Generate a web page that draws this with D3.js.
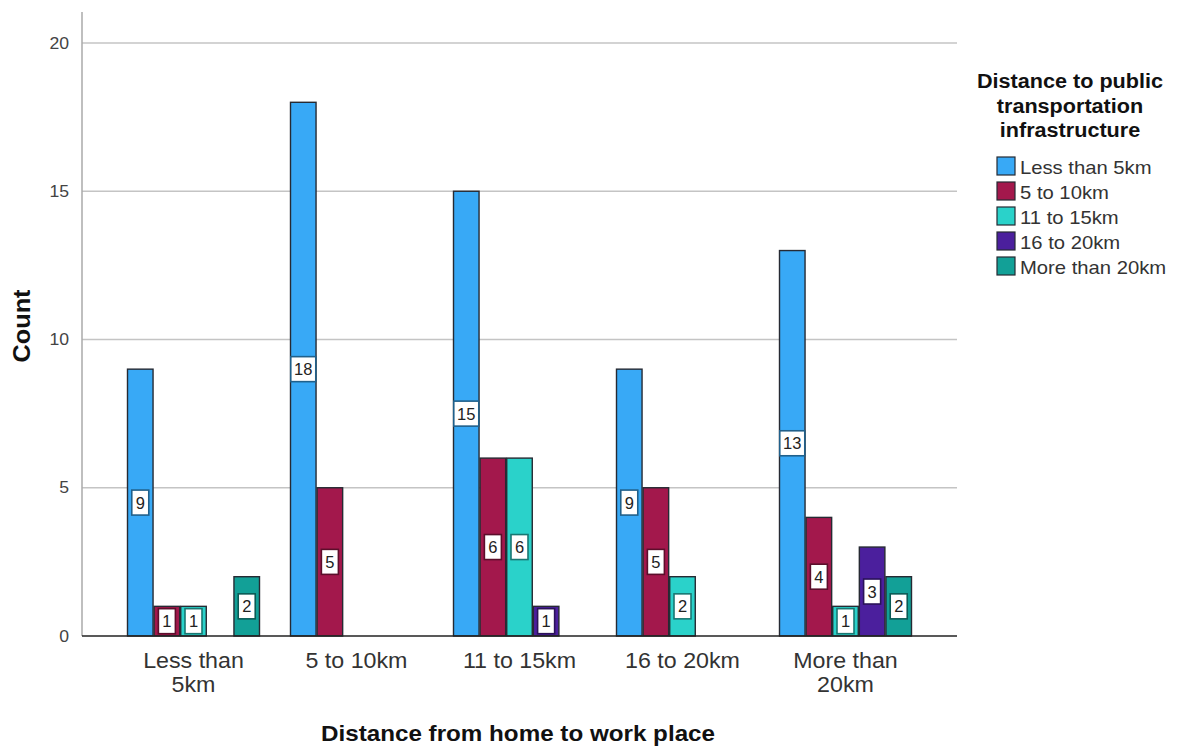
<!DOCTYPE html>
<html>
<head>
<meta charset="utf-8">
<script src="https://cdn.jsdelivr.net/npm/d3@7"></script>
<style>
  html, body { margin: 0; padding: 0; background: #fff; }
  svg { display: block; font-family: "Liberation Sans", Arial, sans-serif; }
</style>
</head>
<body>
<svg id="chart" width="1196" height="747"></svg>
<script>
// Home-to-work distance groups (x axis)
const categories = ["Less than 5km", "5 to 10km", "11 to 15km", "16 to 20km", "More than 20km"];
const categoryLines = [["Less than", "5km"], ["5 to 10km"], ["11 to 15km"], ["16 to 20km"], ["More than", "20km"]];

// Distance to public transport (series)
const seriesNames = ["Less than 5km", "5 to 10km", "11 to 15km", "16 to 20km", "More than 20km"];
const seriesColors = ["#38a9f6", "#a3184c", "#2ad2ca", "#4b1f9d", "#12a097"];

// Counts per series, one entry per x category (null = no bar)
const lessThan5 = [9, 18, 15, 9, 13];
const from5to10 = [1, 5, 6, 5, 4];
const from11to15 = [1, null, 6, 2, 1];
const from16to20 = [null, null, 1, null, 3];
const moreThan20 = [2, null, null, null, 2];
const seriesValues = [lessThan5, from5to10, from11to15, from16to20, moreThan20];

const yTicks = [0, 5, 10, 15, 20];

const svg = d3.select("#chart");
const plot = { left: 82, right: 957, top: 12, bottom: 636 };

// widen glyphs slightly, as the chart's typeface runs wide
function widen(sel, k) {
  sel.each(function () {
    const len = this.getComputedTextLength();
    this.setAttribute("textLength", len * k);
    this.setAttribute("lengthAdjust", "spacingAndGlyphs");
  });
}

const y = d3.scaleLinear().domain([0, 20]).range([plot.bottom, 43]);

const x = d3.scaleBand()
  .domain(categories)
  .range([plot.left + 30, plot.right - 30])
  .paddingInner(0).paddingOuter(0);

const xInner = d3.scaleBand()
  .domain(d3.range(seriesNames.length))
  .range([(x.bandwidth() - 132) / 2, (x.bandwidth() + 132) / 2])
  .paddingInner(0.04);

// gridlines
svg.append("g")
  .selectAll("line")
  .data(yTicks.filter(t => t > 0))
  .join("line")
  .attr("x1", plot.left).attr("x2", plot.right)
  .attr("y1", d => y(d)).attr("y2", d => y(d))
  .attr("stroke", "#c4c4c4").attr("stroke-width", 1.5);

// y axis
const yAxis = svg.append("g")
  .attr("transform", `translate(${plot.left},0)`)
  .call(d3.axisLeft(y).tickValues(yTicks).tickSize(0).tickPadding(13).tickFormat(d3.format("d")));
yAxis.select(".domain").remove();
yAxis.selectAll("text").attr("fill", "#444").attr("font-size", 16);
widen(yAxis.selectAll("text"), 1.1);
svg.append("line")
  .attr("x1", plot.left).attr("x2", plot.left)
  .attr("y1", plot.top).attr("y2", plot.bottom)
  .attr("stroke", "#aaa").attr("stroke-width", 1.5);

// bars
const barData = [];
seriesValues.forEach((vals, si) => {
  vals.forEach((v, ci) => {
    if (v != null) barData.push({ si, ci, v });
  });
});

svg.append("g")
  .selectAll("rect")
  .data(barData)
  .join("rect")
  .attr("x", d => x(categories[d.ci]) + xInner(d.si))
  .attr("width", xInner.bandwidth())
  .attr("y", d => y(d.v))
  .attr("height", d => y(0) - y(d.v))
  .attr("fill", d => seriesColors[d.si])
  .attr("stroke", "#262a33")
  .attr("stroke-width", 1.4);

// x baseline
svg.append("line")
  .attr("x1", plot.left).attr("x2", plot.right)
  .attr("y1", plot.bottom).attr("y2", plot.bottom)
  .attr("stroke", "#222").attr("stroke-width", 1.5);

// value labels, boxed at mid-height of each bar
const labels = svg.append("g");
barData.forEach(d => {
  const cx = x(categories[d.ci]) + xInner(d.si) + xInner.bandwidth() / 2;
  const cy = Math.min(y(d.v / 2), plot.bottom - 13);
  const txt = String(d.v);
  const w = txt.length > 1 ? 25 : 17;
  labels.append("rect")
    .attr("x", cx - w / 2).attr("y", cy - 12.5)
    .attr("width", w).attr("height", 25)
    .attr("fill", "#fff")
    .attr("stroke", d3.color(seriesColors[d.si]).darker(1.6))
    .attr("stroke-width", 1.6);
  labels.append("text")
    .attr("x", cx).attr("y", cy + 6)
    .attr("text-anchor", "middle")
    .attr("font-size", 16.5).attr("fill", "#222")
    .text(txt);
});

// x category labels
const xl = svg.append("g");
categories.forEach((c, i) => {
  const cx = x(c) + x.bandwidth() / 2;
  const t = xl.append("text")
    .attr("x", cx)
    .attr("y", 668)
    .attr("text-anchor", "middle")
    .attr("font-size", 21.5).attr("fill", "#333");
  categoryLines[i].forEach((ln, j) => {
    t.append("tspan").attr("x", cx).attr("dy", j === 0 ? 0 : 24).text(ln);
  });
});
widen(xl.selectAll("tspan"), 1.08);

// axis titles
const xTitle = svg.append("text")
  .attr("x", 518).attr("y", 741)
  .attr("text-anchor", "middle")
  .attr("font-size", 22).attr("font-weight", "bold").attr("fill", "#111")
  .text("Distance from home to work place");
widen(xTitle, 1.1);

const yTitle = svg.append("text")
  .attr("transform", "translate(30,326) rotate(-90)")
  .attr("text-anchor", "middle")
  .attr("font-size", 23).attr("font-weight", "bold").attr("fill", "#111")
  .text("Count");
widen(yTitle, 1.1);

// legend
const lg = svg.append("g");
["Distance to public", "transportation", "infrastructure"].forEach((ln, i) => {
  const t = lg.append("text")
    .attr("x", 1070).attr("y", 88 + i * 24.5)
    .attr("text-anchor", "middle")
    .attr("font-size", 20).attr("font-weight", "bold").attr("fill", "#111")
    .text(ln);
  widen(t, 1.08);
});
seriesNames.forEach((n, i) => {
  const yy = 157 + i * 25;
  lg.append("rect")
    .attr("x", 997).attr("y", yy)
    .attr("width", 18).attr("height", 18)
    .attr("fill", seriesColors[i])
    .attr("stroke", "#262a33").attr("stroke-width", 1.2);
  const t = lg.append("text")
    .attr("x", 1020).attr("y", yy + 17)
    .attr("font-size", 19).attr("fill", "#333")
    .text(n);
  widen(t, 1.065);
});
</script>
</body>
</html>
